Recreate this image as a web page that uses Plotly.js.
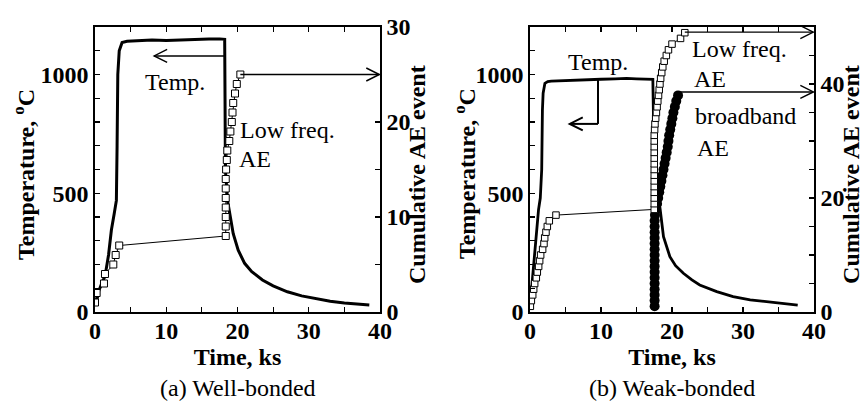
<!DOCTYPE html>
<html>
<head>
<meta charset="utf-8">
<script src="https://cdn.plot.ly/plotly-3.0.1.min.js"></script>
<style>html,body{margin:0;padding:0;background:#fff;}#chart{width:866px;height:405px;}</style>
</head>
<body>
<div id="chart"></div>
<script>
// ---------- data ----------
// (a) Well-bonded
const wellTempTime = [0.2, 0.5, 1.0, 1.4, 1.9, 2.3, 2.7, 3.0, 3.1, 3.2, 3.4, 3.8, 4.5, 6, 8, 10, 12, 14, 16, 17.5, 18.2, 18.25, 18.3, 18.6, 19.0, 19.4, 20.1, 21, 22, 23.5, 25, 27, 29, 31, 33, 35, 37, 38.5];
const wellTemp     = [40, 86, 125, 150, 240, 345, 415, 470, 700, 1000, 1100, 1135, 1140, 1142, 1145, 1143, 1146, 1147, 1149, 1150, 1148, 900, 600, 470, 400, 330, 260, 205, 170, 135, 110, 85, 68, 55, 45, 38, 33, 30];
const wellAETime   = [0, 0.23, 1.26, 1.4, 2.57, 2.9, 3.4, 18.35, 18.35, 18.35, 18.35, 18.35, 18.35, 18.35, 18.4, 18.5, 18.57, 18.85, 19.0, 19.2, 19.3, 19.4, 19.65, 19.9, 20.4];
const wellAECount  = [1, 2, 3, 4, 5, 6, 7, 8, 9, 10, 11, 12, 13, 14, 15, 16, 17, 18, 19, 20, 21, 22, 23, 24, 25];

// (b) Weak-bonded
const weakTempTime = [0.0, 0.2, 0.5, 0.85, 1.2, 1.45, 1.65, 1.75, 1.85, 2.1, 2.5, 3.0, 5, 8, 10, 12, 13.6, 15, 17.3, 17.4, 17.5, 17.8, 18.3, 18.8, 19.7, 20.5, 21.6, 22.8, 23.9, 26.3, 28.6, 31, 33.3, 35.5, 37.7];
const weakTemp     = [22, 93, 205, 317, 430, 480, 600, 850, 921, 963, 970, 972, 975, 977, 980, 982, 984, 982, 980, 800, 560, 480, 440, 317, 233, 195, 163, 135, 114, 86, 65, 51, 43, 35, 29];
const weakLowTime  = [0.05, 0.19, 0.38, 0.52, 0.66, 0.89, 1.03, 1.22, 1.36, 1.5, 1.78, 1.97, 2.07, 2.25, 2.44, 2.72, 3.66,
                      17.5, 17.5, 17.5, 17.5, 17.5, 17.5, 17.5, 17.5, 17.5, 17.5, 17.5, 17.5, 17.5, 17.5, 17.55,
                      17.6, 17.7, 17.8, 17.9, 18.0, 18.1, 18.2, 18.3, 18.4, 18.55, 18.7, 18.9, 19.2, 19.5, 20.0, 21.2, 21.8];
const weakLowCount = [1, 2, 3, 4, 5, 6, 7, 8, 9, 10, 11, 12, 13, 14, 15, 16, 17,
                      18, 19, 20, 21, 22, 23, 24, 25, 26, 27, 28, 29, 30, 31, 32,
                      33, 34, 35, 36, 37, 38, 39, 40, 41, 42, 43, 44, 45, 46, 47, 48, 49];
const weakBroadTime  = [17.55, 17.55, 17.55, 17.55, 17.55, 17.55, 17.55, 17.55, 17.55, 17.55, 17.55, 17.55, 17.55, 17.55, 17.55, 17.55,
                        17.6, 17.75, 17.9, 18.05, 18.2, 18.35, 18.5, 18.65, 18.8, 18.95, 19.1, 19.25, 19.4, 19.5, 19.6, 19.75, 19.9, 20.05, 20.2, 20.4, 20.6, 20.85];
const weakBroadCount = [1, 2, 3, 4, 5, 6, 7, 8, 9, 10, 11, 12, 13, 14, 15, 16,
                        17, 18, 19, 20, 21, 22, 23, 24, 25, 26, 27, 28, 29, 30, 31, 32, 33, 34, 35, 36, 37, 38];

// ---------- styling ----------
const F = 'Liberation Serif';
const bold = {family: F, size: 24, color: 'black', weight: 'bold'};
const reg = {family: F, size: 24, color: 'black'};

const traces = [
  {x: wellTempTime, y: wellTemp, xaxis: 'x', yaxis: 'y', mode: 'lines', line: {color: 'black', width: 3}},
  {x: wellAETime, y: wellAECount, xaxis: 'x', yaxis: 'y2', mode: 'lines+markers', line: {color: 'black', width: 1},
   marker: {symbol: 'square', size: 7, color: 'white', line: {color: 'black', width: 1}}},
  {x: weakTempTime, y: weakTemp, xaxis: 'x2', yaxis: 'y3', mode: 'lines', line: {color: 'black', width: 2.8}},
  {x: weakBroadTime, y: weakBroadCount, xaxis: 'x2', yaxis: 'y4', mode: 'lines+markers', line: {color: 'black', width: 2},
   marker: {symbol: 'circle', size: 10, color: 'black'}},
  {x: weakLowTime, y: weakLowCount, xaxis: 'x2', yaxis: 'y4', mode: 'lines+markers', line: {color: 'black', width: 1},
   marker: {symbol: 'square', size: 6.5, color: 'white', line: {color: 'black', width: 1}}}
];

function ax(extra) {
  return Object.assign({
    showline: true, linecolor: 'black', linewidth: 1.6,
    ticks: 'inside', ticklen: 5, tickwidth: 1.2, tickcolor: 'black',
    showgrid: false, zeroline: false, tickfont: bold, fixedrange: true
  }, extra);
}
const minor = d => ({dtick: d, ticks: 'inside', ticklen: 5, tickwidth: 1.2, tickcolor: 'black', showgrid: false});

const ytitle = (text, x) => ({text: text, xref: 'paper', yref: 'paper', x: x, y: 0.484, textangle: -90,
  showarrow: false, font: bold, xanchor: 'center', yanchor: 'middle'});

const layout = {
  width: 866, height: 405,
  margin: {l: 0, r: 0, t: 27, b: 93},
  paper_bgcolor: 'white', plot_bgcolor: 'white',
  showlegend: false,
  font: reg,
  xaxis: ax({domain: [0.1097, 0.4388], range: [0, 40], tick0: 0, dtick: 10, minor: minor(5), mirror: 'ticks', anchor: 'y',
             ticklabelstandoff: -3, title: {text: 'Time, ks', font: bold, standoff: 0}}),
  yaxis: ax({range: [0, 1200], tick0: 0, dtick: 500, minor: minor(100), anchor: 'x'}),
  yaxis2: ax({range: [0, 30], tick0: 0, dtick: 10, minor: minor(5), overlaying: 'y', side: 'right', anchor: 'x'}),
  xaxis2: ax({domain: [0.6120, 0.9400], range: [0, 40], tick0: 0, dtick: 10, minor: minor(5), mirror: 'ticks', anchor: 'y3',
              ticklabelstandoff: -3, title: {text: 'Time, ks', font: bold, standoff: 0}}),
  yaxis3: ax({range: [0, 1200], tick0: 0, dtick: 500, minor: minor(100), anchor: 'x2'}),
  yaxis4: ax({range: [0, 50], tick0: 0, dtick: 20, minor: minor(5), overlaying: 'y3', side: 'right', anchor: 'x2'}),
  annotations: [
    ytitle('Temperature, <sup>o</sup>C', 0.0277),
    ytitle('Cumulative AE event', 0.4815),
    ytitle('Temperature, <sup>o</sup>C', 0.537),
    ytitle('Cumulative AE event', 0.9825),
    {text: '(a) Well-bonded', xref: 'paper', yref: 'paper', x: 0.2743, y: -0.267, showarrow: false, font: reg, xanchor: 'center', yanchor: 'middle'},
    {text: '(b) Weak-bonded', xref: 'paper', yref: 'paper', x: 0.776, y: -0.267, showarrow: false, font: reg, xanchor: 'center', yanchor: 'middle'},
    {text: 'Temp.', xref: 'x', yref: 'y', x: 11.2, y: 968, showarrow: false, font: reg},
    {text: 'Low freq.', xref: 'x', yref: 'y2', x: 20.0, y: 19.15, showarrow: false, font: reg, xanchor: 'left'},
    {text: 'AE', xref: 'x', yref: 'y2', x: 19.9, y: 16.1, showarrow: false, font: reg, xanchor: 'left'},
    {text: 'Temp.', xref: 'x2', yref: 'y3', x: 9.6, y: 1052, showarrow: false, font: reg},
    {text: 'Type1', xref: 'x2', yref: 'y4', x: 33.1, y: 51.6, showarrow: false, font: {family: F, size: 22, color: 'black'}},
    {text: 'Low freq.', xref: 'x2', yref: 'y4', x: 22.6, y: 46.1, showarrow: false, font: reg, xanchor: 'left'},
    {text: 'AE', xref: 'x2', yref: 'y4', x: 22.8, y: 40.9, showarrow: false, font: reg, xanchor: 'left'},
    {text: 'broadband', xref: 'x2', yref: 'y4', x: 23.0, y: 34.3, showarrow: false, font: reg, xanchor: 'left'},
    {text: 'AE', xref: 'x2', yref: 'y4', x: 23.2, y: 28.8, showarrow: false, font: reg, xanchor: 'left'}
  ],
  shapes: []
};

// arrows: horizontal line + open V head (head size in pixels)
function hArrow(xr, yr, x0, x1, y, w) {
  const dir = x1 > x0 ? 1 : -1;
  layout.shapes.push({type: 'line', xref: xr, yref: yr, x0: x0, x1: x1, y0: y, y1: y, line: {color: 'black', width: w}});
  layout.shapes.push({type: 'path', xref: xr, yref: yr, xsizemode: 'pixel', ysizemode: 'pixel', xanchor: x1, yanchor: y,
    path: `M ${-dir * 13},6.5 L 0,0 L ${-dir * 13},-6.5`, line: {color: 'black', width: w}});
}
// (a)
hArrow('x', 'y', 18.2, 8.3, 1078, 1.4);
hArrow('x', 'y2', 20.4, 39.9, 25, 1.4);
// (b)
layout.shapes.push({type: 'line', xref: 'x2', yref: 'y3', x0: 9.58, x1: 9.58, y0: 977, y1: 792, line: {color: 'black', width: 2}});
hArrow('x2', 'y3', 9.58, 5.6, 792, 2);
hArrow('x2', 'y4', 21.8, 39.9, 49.1, 1.4);
hArrow('x2', 'y4', 20.85, 39.9, 38.6, 1.4);

Plotly.newPlot('chart', traces, layout, {displayModeBar: false, staticPlot: true});
</script>
</body>
</html>
